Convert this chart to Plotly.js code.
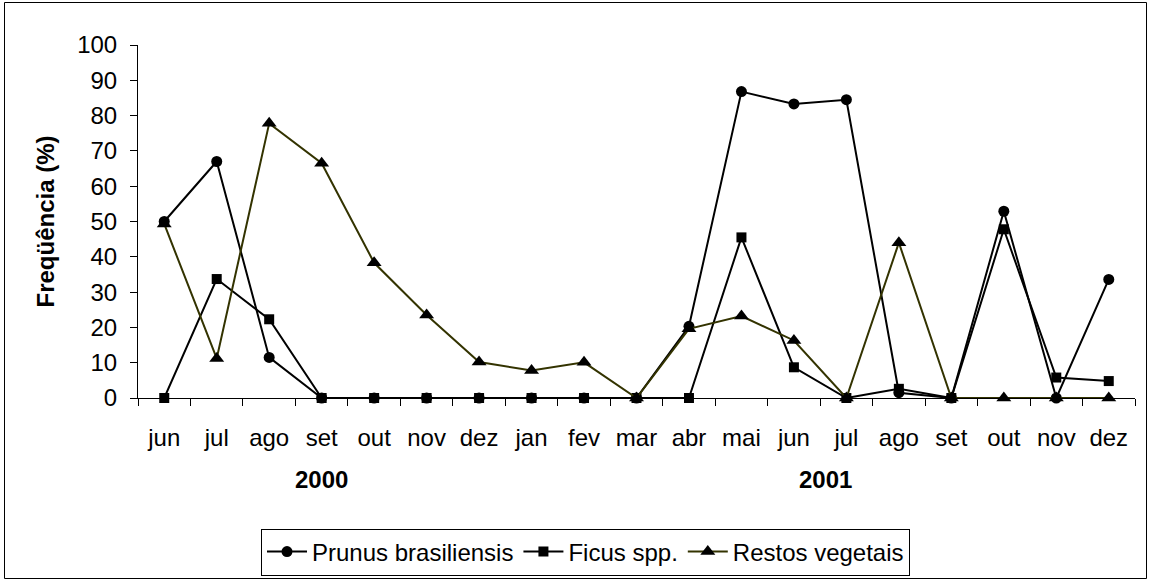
<!DOCTYPE html>
<html>
<head>
<meta charset="utf-8">
<script src="https://cdn.plot.ly/plotly-3.0.1.min.js"></script>
<style>html,body{margin:0;padding:0;background:#fff;}#chart{width:1151px;height:583px;}</style>
</head>
<body>
<div id="chart"></div>
<script>
const months = ["jun","jul","ago","set","out","nov","dez","jan","fev","mar","abr","mai","jun","jul","ago","set","out","nov","dez"];
const monthIndex = months.map((m, i) => i);
const prunus = [50, 67, 11.5, 0, 0, 0, 0, 0, 0, 0, 20.3, 86.8, 83.3, 84.5, 1.5, 0, 52.9, 0, 33.6];
const ficus = [0, 33.7, 22.3, 0, 0, 0, 0, 0, 0, 0, 0, 45.5, 8.7, 0, 2.6, 0, 47.8, 5.8, 4.8];
const restos = [49.3, 11.2, 77.8, 66.5, 38.3, 23.5, 10.2, 7.8, 10.1, 0, 19.6, 23.2, 16.3, 0, 44, 0, 0, 0, 0];
const years = ["2000", "2001"];
const yearPos = [3, 12.6];

const font = "Liberation Sans, Arial, sans-serif";
const FS = 24;
const traces = [
  {x: monthIndex, y: prunus, name: "Prunus brasiliensis", type: "scatter", mode: "lines+markers", cliponaxis: false,
   line: {color: "#000000", width: 2}, marker: {symbol: "circle", size: 11, color: "#000000"}},
  {x: monthIndex, y: ficus, name: "Ficus spp.", type: "scatter", mode: "lines+markers", cliponaxis: false,
   line: {color: "#000000", width: 2}, marker: {symbol: "square", size: 10, color: "#000000"}},
  {x: monthIndex, y: restos, name: "Restos vegetais", type: "scatter", mode: "lines+markers", cliponaxis: false,
   line: {color: "#333300", width: 2}, marker: {symbol: "triangle-up", size: 13, color: "#000000"}}
];

const L = 138, R = 1135, T = 45, B = 398;
const W = R - L, H = B - T;
const px = v => (v - L) / W;
const py = v => (B - v) / H;

const layout = {
  width: 1151, height: 583,
  margin: {l: L, r: 1151 - R, t: T, b: 583 - B, pad: 0, autoexpand: false},
  paper_bgcolor: "#ffffff", plot_bgcolor: "#ffffff",
  font: {family: font, size: FS, color: "#000000"},
  showlegend: true,
  legend: {orientation: "h", x: px(261), y: py(575.5), xanchor: "left", yanchor: "bottom",
           bordercolor: "#000000", borderwidth: 1, font: {family: font, size: FS, color: "#000000"},
           itemwidth: 40, tracegroupgap: 0},
  xaxis: {range: [-0.5, 18.5], tickmode: "array", tickvals: monthIndex, ticktext: months, automargin: false,
          ticks: "", showgrid: false, zeroline: false, showline: true, linecolor: "#000000", linewidth: 1,
          ticklabelstandoff: 18, tickfont: {family: font, size: FS, color: "#000000"},
          minor: {tickmode: "linear", tick0: -0.5, dtick: 1, ticks: "outside", ticklen: 7, tickcolor: "#000000", tickwidth: 1, showgrid: false},
          fixedrange: true},
  yaxis: {range: [0, 100], tickmode: "linear", tick0: 0, dtick: 10, ticks: "outside", ticklen: 7, automargin: false,
          tickcolor: "#000000", showgrid: false, zeroline: false, showline: true, linecolor: "#000000", linewidth: 1,
          ticklabelstandoff: 8, tickfont: {family: font, size: FS, color: "#000000"},
          title: {text: "<b>Freqüência (%)</b>", font: {family: font, size: 24, color: "#000000"}, standoff: 15},
          fixedrange: true},
  annotations: years.map((t, i) => ({
    text: "<b>" + t + "</b>", x: yearPos[i], xref: "x", y: py(479), yref: "paper",
    showarrow: false, xanchor: "center", yanchor: "middle", font: {family: font, size: 24, color: "#000000"}
  })),
  shapes: [
    {type: "rect", xref: "paper", yref: "paper", x0: px(4.5), x1: px(1146.5), y0: py(578.5), y1: py(2.5),
     line: {color: "#000000", width: 1}, fillcolor: "rgba(0,0,0,0)", layer: "below"}
  ]
};

Plotly.newPlot("chart", traces, layout, {displayModeBar: false, staticPlot: true});
</script>
</body>
</html>
